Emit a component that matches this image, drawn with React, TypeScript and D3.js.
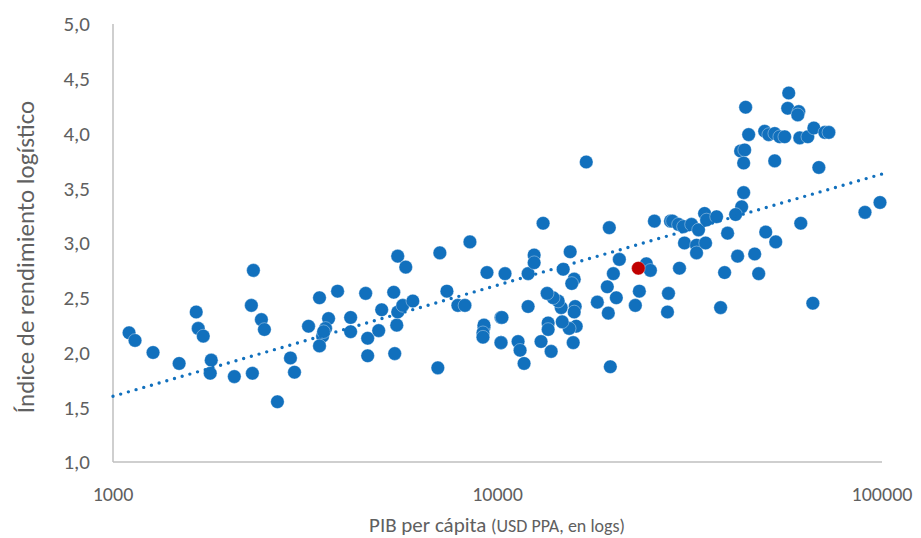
import React from "react";
import * as d3 from "d3";

// PIB per cápita (USD PPA) e índice de rendimiento logístico
const gdpPerCapita = [
  1101, 1141, 1271, 1486, 1646, 1666, 1717, 1801, 1790, 2068, 2304, 2318, 2290, 2432, 2476,
  2677, 2894, 2965, 3444, 3225, 3636, 3571, 3508, 3529, 3444, 3838, 4150, 4150, 4541, 4596,
  4596, 4998, 4909, 5470, 5404, 5372, 5502, 5773, 5502, 5671, 6022, 7081, 8478, 7386, 7888,
  8228, 6996, 9389, 9222, 9167, 10212, 10212, 10461, 12012, 12454, 12454, 13140, 17015, 15453,
  14820, 15831, 15600, 19533, 20744, 20013, 19300, 24386, 24983, 25588, 28178, 23383, 22829,
  20370, 19417, 18181, 27842, 27676, 19652, 15736, 16021, 15925, 15831, 15363, 14731, 14644,
  14383, 13955, 13462, 13543, 13543, 13789, 12979, 12012, 10273, 9222, 9167, 9167, 10212,
  11311, 11448, 11725, 57205, 56863, 60749, 60386, 44196, 45000, 49541, 50742, 52602, 54200,
  55848, 61116, 64125, 66487, 71023, 72746, 42881, 43934, 43672, 52602, 68510, 43672, 43152,
  41619, 28510, 29557, 30457, 31958, 33330, 34559, 34976, 37137, 39667, 30640, 32934, 34767,
  32934, 29737, 38962, 38040, 42120, 46653, 47790, 49842, 52919, 61482, 66091, 90302, 98808
];
const logisticIndex = [
  2.18, 2.11, 2.0, 1.9, 2.37, 2.22, 2.15, 1.93, 1.81, 1.78, 1.81, 2.75, 2.43, 2.3, 2.21,
  1.55, 1.95, 1.82, 2.5, 2.24, 2.31, 2.22, 2.15, 2.19, 2.06, 2.56, 2.32, 2.19, 2.54, 2.13,
  1.97, 2.39, 2.2, 2.25, 1.99, 2.55, 2.88, 2.78, 2.37, 2.43, 2.47, 2.91, 3.01, 2.56, 2.43,
  2.43, 1.86, 2.73, 2.23, 2.16, 2.09, 2.32, 2.72, 2.72, 2.89, 2.82, 3.18, 3.74, 2.92, 2.76,
  2.67, 2.63, 3.14, 2.85, 2.72, 2.6, 2.81, 2.75, 3.2, 3.2, 2.56, 2.43, 2.5, 2.36, 2.46,
  2.54, 2.37, 1.87, 2.09, 2.24, 2.42, 2.37, 2.22, 2.28, 2.41, 2.47, 2.5, 2.54, 2.27, 2.21,
  2.01, 2.1, 2.42, 2.32, 2.25, 2.18, 2.14, 2.09, 2.1, 2.02, 1.9, 4.37, 4.23, 4.2, 4.17,
  4.24, 3.99, 4.02, 3.99, 4.0, 3.97, 3.97, 3.96, 3.97, 4.05, 4.01, 4.01, 3.84, 3.85, 3.73,
  3.75, 3.69, 3.46, 3.33, 3.26, 3.2, 3.17, 3.15, 3.17, 3.12, 3.27, 3.21, 3.24, 3.09, 3.0,
  2.98, 3.0, 2.91, 2.77, 2.73, 2.41, 2.88, 2.9, 2.72, 3.1, 3.01, 3.18, 2.45, 3.28, 3.37
];
// país destacado
const highlightGdp = [23244];
const highlightIndex = [2.77];

const xTicks = [1000, 10000, 100000];
const yTicks = [1, 1.5, 2, 2.5, 3, 3.5, 4, 4.5, 5];
// línea de tendencia (logarítmica) en los extremos del eje
const trendStart = 1.6;
const trendEnd = 3.63;

const W = 921;
const H = 538;
const FONT = "Carlito, 'Liberation Sans Narrow', 'Open Sans', sans-serif";
const TEXT = "#606060";
const BLUE = "#1170bd";

export default function App() {
  const x = d3.scaleLog().domain([1000, 100000]).range([113, 882]);
  const y = d3.scaleLinear().domain([1, 5]).range([462, 24]);
  const fmt = (v: number) => v.toFixed(1).replace(".", ",");

  const trend = d3
    .line<[number, number]>()
    .x(d => x(d[0]))
    .y(d => y(d[1]))([
    [1000, trendStart],
    [100000, trendEnd]
  ]);

  const points = gdpPerCapita.map((g, i) => ({ g, v: logisticIndex[i] }));

  return (
    <div style={{ position: "absolute", left: 0, top: 0 }}>
      <svg width={W} height={H} style={{ display: "block", background: "#fff" }}>
        <line x1={113} x2={113} y1={y(5)} y2={y(1)} stroke="#bfbfbf" strokeWidth={1.5} />
        <line x1={113} x2={882} y1={y(1)} y2={y(1)} stroke="#bfbfbf" strokeWidth={1.5} />

        {yTicks.map(t => (
          <text key={t} x={90} y={y(t)} dy="0.35em" textAnchor="end" fontFamily={FONT}
            fontSize={21} fill={TEXT}>
            {fmt(t)}
          </text>
        ))}
        {xTicks.map(t => (
          <text key={t} x={x(t)} y={501} textAnchor="middle" fontFamily={FONT}
            fontSize={20} fill={TEXT}>
            {t}
          </text>
        ))}

        <text x={497} y={532} textAnchor="middle" fontFamily={FONT} fill={TEXT} fontSize={21}>
          PIB per cápita <tspan fontSize={18}>(USD PPA, en logs)</tspan>
        </text>
        <text transform="translate(34,257) rotate(-90)" textAnchor="middle" fontFamily={FONT}
          fontSize={25} fill={TEXT}>
          Índice de rendimiento logístico
        </text>

        {points.map((p, i) => (
          <circle key={i} cx={x(p.g)} cy={y(p.v)} r={6.8} fill={BLUE}
            stroke="#fff" strokeOpacity={0.6} strokeWidth={0.6} />
        ))}
        {highlightGdp.map((g, i) => (
          <circle key={"h" + i} cx={x(g)} cy={y(highlightIndex[i])} r={6.8} fill="#c00000"
            stroke="#fff" strokeOpacity={0.6} strokeWidth={0.6} />
        ))}

        <path d={trend ?? ""} fill="none" stroke={BLUE} strokeWidth={3.4}
          strokeLinecap="round" strokeDasharray="0 8" />
      </svg>
    </div>
  );
}
